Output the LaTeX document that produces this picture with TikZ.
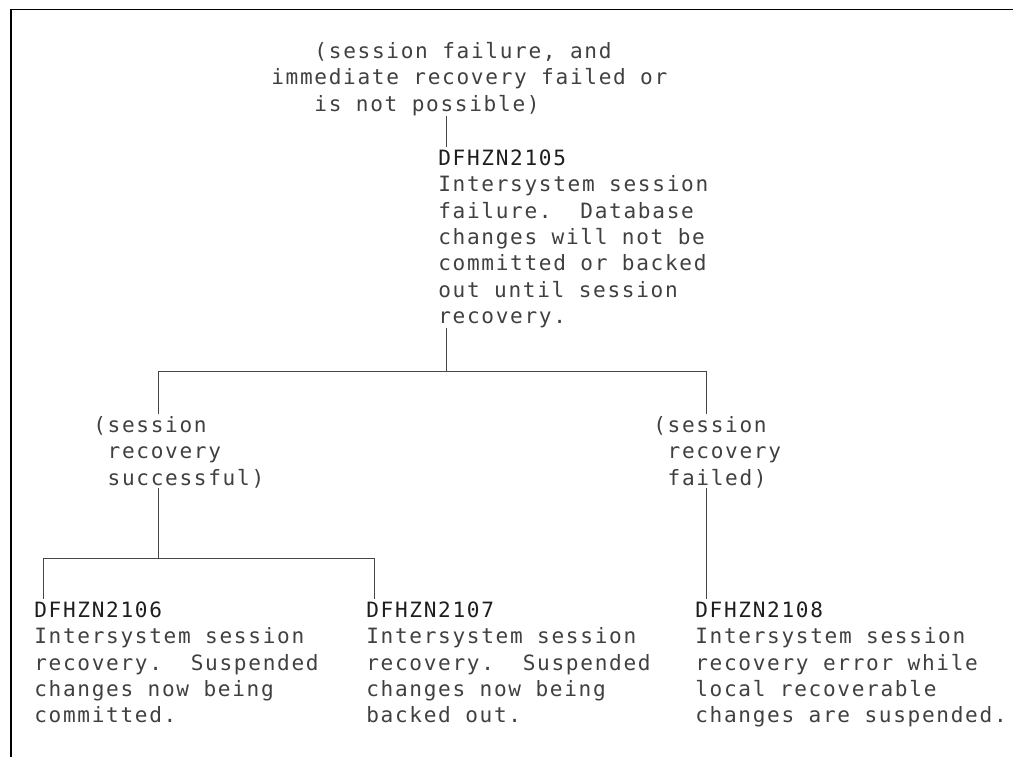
\documentclass[tikz,border=0pt]{standalone}
\usepackage{fontspec}
\usepackage{tikz}
\usepackage{xcolor}
\newfontfamily\ibmmono{DejaVu Sans Mono}[LetterSpace=8]
\definecolor{msgGray}{RGB}{64,64,64}
\definecolor{hdrBlack}{RGB}{30,30,30}
\definecolor{lineGray}{RGB}{70,70,70}
\newcommand{\cellsp}[1]{\hspace*{#1\dimexpr 0.36cm\relax}}

\begin{document}
\begin{tikzpicture}[x=0.025cm, y=-0.025cm,
  msg/.style={anchor=north west, inner sep=0pt, align=left, text=msgGray,
    font=\ibmmono\fontsize{15}{18.76}\selectfont},
  link/.style={draw=lineGray, line width=0.6pt},
  frame/.style={draw=black, line width=1.4pt}]
  \useasboundingbox (0,0) rectangle (1013,757);
  \draw[frame] (11,757) -- (11,9.5) -- (1013,9.5);

  \node[msg] (cond) at (271,39.5) {\strut\cellsp{3}(session failure, and\\immediate recovery failed or\\\cellsp{3}is not possible)};
  \node[msg] (msgA) at (438,146.5) {\strut{\color{hdrBlack}DFHZN2105}\\Intersystem session\\failure.\ \ Database\\changes will not be\\committed or backed\\out until session\\recovery.};
  \node[msg] (condL) at (93,413.5) {\strut(session\\\cellsp{1}recovery\\\cellsp{1}successful)};
  \node[msg] (condR) at (653,413.5) {\strut(session\\\cellsp{1}recovery\\\cellsp{1}failed)};
  \node[msg] (msgB) at (34,598.5) {\strut{\color{hdrBlack}DFHZN2106}\\Intersystem session\\recovery.\ \ Suspended\\changes now being\\committed.};
  \node[msg] (msgC) at (366,598.5) {\strut{\color{hdrBlack}DFHZN2107}\\Intersystem session\\recovery.\ \ Suspended\\changes now being\\backed out.};
  \node[msg] (msgD) at (695,598.5) {\strut{\color{hdrBlack}DFHZN2108}\\Intersystem session\\recovery error while\\local recoverable\\changes are suspended.};

  \coordinate (busTop) at (446,371);
  \coordinate (forkL) at (158,371);
  \coordinate (forkR) at (706,371);
  \coordinate (forkB) at (158,558);
  \coordinate (legB) at (43,558);
  \coordinate (legC) at (374,558);

  \draw[link] (cond.south -| busTop) -- (msgA.north -| busTop);
  \draw[link] (msgA.south -| busTop) -- (busTop);
  \draw[link] (condL.north -| forkL) -- (forkL) -- (forkR) -- (condR.north -| forkR);
  \draw[link] (condL.south -| forkB) -- (forkB);
  \draw[link] (msgB.north -| legB) -- (legB) -- (legC) -- (msgC.north -| legC);
  \draw[link] (condR.south -| forkR) -- (msgD.north -| forkR);
\end{tikzpicture}
\end{document}
